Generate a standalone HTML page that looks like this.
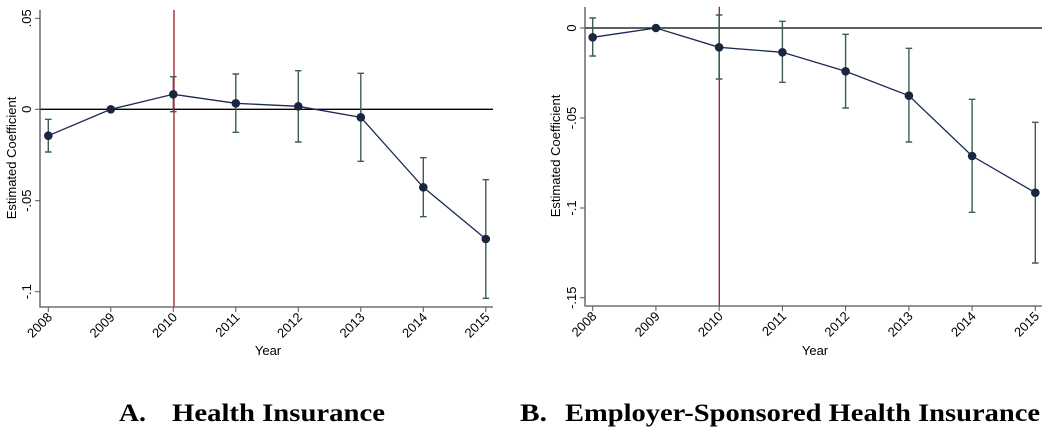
<!DOCTYPE html>
<html><head><meta charset="utf-8"><style>html,body{margin:0;padding:0;background:#fff}svg{display:block}</style></head><body>
<svg width="1050" height="432" xmlns="http://www.w3.org/2000/svg" font-family="'Liberation Sans', sans-serif">
<rect width="1050" height="432" fill="#fff"/>
<!-- LEFT -->
<g>
<line x1="174" y1="10" x2="174" y2="307" stroke="#a3172a" stroke-width="1.3"/>
<line x1="40" y1="109.3" x2="493" y2="109.3" stroke="#000" stroke-width="1.3"/>
<path d="M40 10V307H493" fill="none" stroke="#555" stroke-width="1.3"/>
<g stroke="#555" stroke-width="1">
<line x1="35" y1="18.3" x2="40" y2="18.3"/><line x1="35" y1="109.3" x2="40" y2="109.3"/><line x1="35" y1="200.7" x2="40" y2="200.7"/><line x1="35" y1="291.7" x2="40" y2="291.7"/>
<line x1="48.3" y1="307" x2="48.3" y2="312"/><line x1="110.8" y1="307" x2="110.8" y2="312"/><line x1="173.3" y1="307" x2="173.3" y2="312"/><line x1="235.8" y1="307" x2="235.8" y2="312"/><line x1="298.3" y1="307" x2="298.3" y2="312"/><line x1="360.8" y1="307" x2="360.8" y2="312"/><line x1="423.3" y1="307" x2="423.3" y2="312"/><line x1="485.8" y1="307" x2="485.8" y2="312"/>
</g>
<g font-size="13" fill="#000" text-anchor="middle">
<text transform="translate(31,18.3) rotate(-90)">.05</text>
<text transform="translate(31,109.3) rotate(-90)">0</text>
<text transform="translate(31,200.7) rotate(-90)">-.05</text>
<text transform="translate(31,291.7) rotate(-90)">-.1</text>
<text transform="translate(16,158) rotate(-90)">Estimated Coefficient</text>
<text x="268" y="355">Year</text>
</g>
<g font-size="13" fill="#000" text-anchor="end">
<text transform="translate(53,318) rotate(-45)">2008</text>
<text transform="translate(115.5,318) rotate(-45)">2009</text>
<text transform="translate(178,318) rotate(-45)">2010</text>
<text transform="translate(240.5,318) rotate(-45)">2011</text>
<text transform="translate(303,318) rotate(-45)">2012</text>
<text transform="translate(365.5,318) rotate(-45)">2013</text>
<text transform="translate(428,318) rotate(-45)">2014</text>
<text transform="translate(490.5,318) rotate(-45)">2015</text>
</g>
<g stroke="#3d5c55" stroke-width="1.4" fill="none">
<path d="M48.3 119.3V152M45 119.3h6.6M45 152h6.6"/>
<path d="M173.3 76.7V111.7M170 76.7h6.6M170 111.7h6.6"/>
<path d="M235.8 74V132.3M232.5 74h6.6M232.5 132.3h6.6"/>
<path d="M298.3 70.7V142M295 70.7h6.6M295 142h6.6"/>
<path d="M360.8 73.3V161.3M357.5 73.3h6.6M357.5 161.3h6.6"/>
<path d="M423.3 157.7V216.7M420 157.7h6.6M420 216.7h6.6"/>
<path d="M485.8 179.7V298.3M482.5 179.7h6.6M482.5 298.3h6.6"/>
</g>
<polyline points="48.3,135.7 110.8,109.3 173.3,94.3 235.8,103.3 298.3,106.3 360.8,117.3 423.3,187.3 485.8,239" fill="none" stroke="#1a2a55" stroke-width="1.3"/>
<g fill="#1a2540">
<circle cx="48.3" cy="135.7" r="4.3"/><circle cx="110.8" cy="109.3" r="4.3"/><circle cx="173.3" cy="94.3" r="4.3"/><circle cx="235.8" cy="103.3" r="4.3"/><circle cx="298.3" cy="106.3" r="4.3"/><circle cx="360.8" cy="117.3" r="4.3"/><circle cx="423.3" cy="187.3" r="4.3"/><circle cx="485.8" cy="239" r="4.3"/>
</g>
</g>
<!-- RIGHT -->
<g>
<line x1="719.3" y1="6.7" x2="719.3" y2="306" stroke="#a3172a" stroke-width="1.3"/>
<line x1="585" y1="28" x2="1042" y2="28" stroke="#000" stroke-width="1.3"/>
<path d="M585 7V306H1042" fill="none" stroke="#555" stroke-width="1.3"/>
<g stroke="#555" stroke-width="1">
<line x1="580" y1="28" x2="585" y2="28"/><line x1="580" y1="118" x2="585" y2="118"/><line x1="580" y1="208" x2="585" y2="208"/><line x1="580" y1="297.7" x2="585" y2="297.7"/>
<line x1="592.7" y1="306" x2="592.7" y2="311"/><line x1="655.9" y1="306" x2="655.9" y2="311"/><line x1="719.1" y1="306" x2="719.1" y2="311"/><line x1="782.4" y1="306" x2="782.4" y2="311"/><line x1="845.6" y1="306" x2="845.6" y2="311"/><line x1="908.9" y1="306" x2="908.9" y2="311"/><line x1="972.1" y1="306" x2="972.1" y2="311"/><line x1="1035.3" y1="306" x2="1035.3" y2="311"/>
</g>
<g font-size="13" fill="#000" text-anchor="middle">
<text transform="translate(576,28) rotate(-90)">0</text>
<text transform="translate(576,118) rotate(-90)">-.05</text>
<text transform="translate(576,208) rotate(-90)">-.1</text>
<text transform="translate(576,297.7) rotate(-90)">-.15</text>
<text transform="translate(560,156) rotate(-90)">Estimated Coefficient</text>
<text x="815" y="355">Year</text>
</g>
<g font-size="13" fill="#000" text-anchor="end">
<text transform="translate(597.4,317) rotate(-45)">2008</text>
<text transform="translate(660.6,317) rotate(-45)">2009</text>
<text transform="translate(723.8,317) rotate(-45)">2010</text>
<text transform="translate(787.1,317) rotate(-45)">2011</text>
<text transform="translate(850.3,317) rotate(-45)">2012</text>
<text transform="translate(913.6,317) rotate(-45)">2013</text>
<text transform="translate(976.8,317) rotate(-45)">2014</text>
<text transform="translate(1040,317) rotate(-45)">2015</text>
</g>
<g stroke="#3d5c55" stroke-width="1.4" fill="none">
<path d="M592.7 18V56M589.4 18h6.6M589.4 56h6.6"/>
<path d="M719.1 15V79M715.8 15h6.6M715.8 79h6.6"/>
<path d="M782.4 21.3V82.3M779.1 21.3h6.6M779.1 82.3h6.6"/>
<path d="M845.6 34.3V108M842.3 34.3h6.6M842.3 108h6.6"/>
<path d="M908.9 48.3V142M905.6 48.3h6.6M905.6 142h6.6"/>
<path d="M972.1 99.3V212.3M968.8 99.3h6.6M968.8 212.3h6.6"/>
<path d="M1035.3 122.3V263M1032 122.3h6.6M1032 263h6.6"/>
</g>
<polyline points="592.7,37.3 655.9,28 719.1,47.3 782.4,52.3 845.6,71.3 908.9,95.7 972.1,156 1035.3,192.7" fill="none" stroke="#1a2a55" stroke-width="1.3"/>
<g fill="#1a2540">
<circle cx="592.7" cy="37.3" r="4.3"/><circle cx="655.9" cy="28" r="4.3"/><circle cx="719.1" cy="47.3" r="4.3"/><circle cx="782.4" cy="52.3" r="4.3"/><circle cx="845.6" cy="71.3" r="4.3"/><circle cx="908.9" cy="95.7" r="4.3"/><circle cx="972.1" cy="156" r="4.3"/><circle cx="1035.3" cy="192.7" r="4.3"/>
</g>
</g>
<!-- captions -->
<g font-family="'Liberation Serif', serif" font-weight="bold" font-size="25" fill="#000">
<text x="119" y="421" textLength="27" lengthAdjust="spacingAndGlyphs">A.</text>
<text x="172" y="421" textLength="213" lengthAdjust="spacingAndGlyphs">Health Insurance</text>
<text x="520" y="421" textLength="27" lengthAdjust="spacingAndGlyphs">B.</text>
<text x="565" y="421" textLength="475" lengthAdjust="spacingAndGlyphs">Employer-Sponsored Health Insurance</text>
</g>
</svg>
</body></html>
